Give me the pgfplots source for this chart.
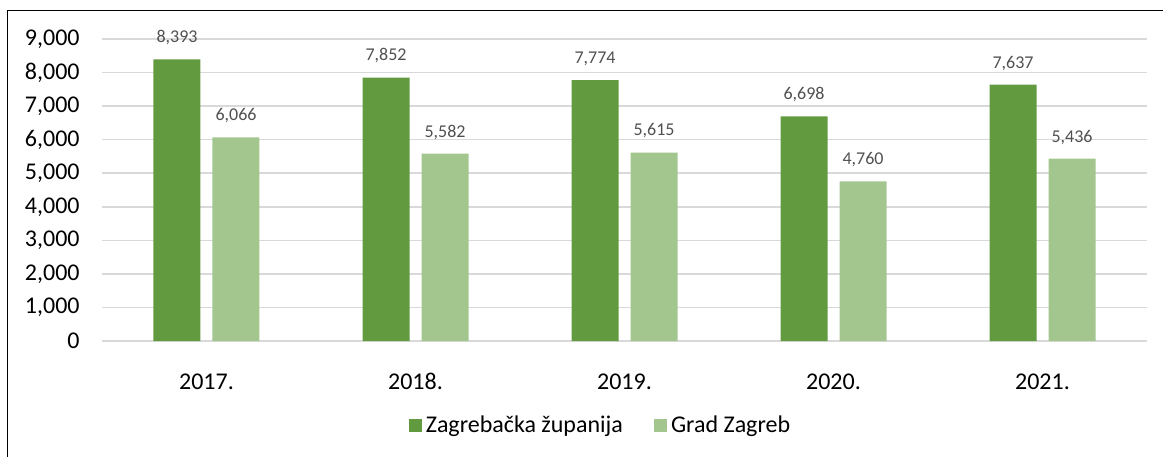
\documentclass[border=0pt]{standalone}
\usepackage{fontspec}
\setmainfont{Carlito}
\usepackage{pgfplots}
\pgfplotsset{compat=1.18}
\definecolor{darkg}{HTML}{629A3F}
\definecolor{lightg}{HTML}{A3C68F}
\definecolor{gridg}{HTML}{D9D9D9}
\definecolor{lblg}{HTML}{505050}
\begin{document}
\begin{tikzpicture}
\useasboundingbox (-51pt,-57.5pt) rectangle (530.5pt,170.5pt);
\draw[line width=0.8pt] (-47.2pt,-60pt) -- (-47.2pt,165.2pt) -- (535pt,165.2pt);
\begin{axis}[
  scale only axis,
  width=522.5pt, height=151pt,
  xmin=-0.5, xmax=4.5,
  ymin=0, ymax=9000,
  ytick distance=1000,
  xtick=data,
  xticklabels={2017.,2018.,2019.,2020.,2021.},
  axis line style={draw=none},
  tick style={draw=none},
  ymajorgrids,
  grid style={gridg, line width=0.8pt},
  /pgf/number format/.cd, assume math mode=true, 1000 sep={,},
  /pgfplots/.cd,
  ybar=6pt,
  bar width=23.5pt,
  tick label style={font=\fontsize{12}{14}\selectfont, text=black},
  yticklabel style={anchor=east, inner sep=0pt, xshift=-11pt},
  xticklabel style={anchor=base, inner sep=0pt, yshift=-20pt},
  nodes near coords,
  every node near coord/.append style={font=\fontsize{9}{10}\selectfont, text=lblg, anchor=base, inner sep=0pt, yshift=8.3pt},
  legend style={at={(0.478,-0.281)}, anchor=center, draw=none, fill=none,
    legend columns=2, font=\fontsize{12}{14}\selectfont,
    /tikz/every even column/.append style={column sep=14pt},
    nodes={inner xsep=1.8pt}},
  legend image code/.code={\fill[#1] (0pt,-3.25pt) rectangle (6.5pt,3.25pt);},
]
\addplot[fill=darkg, draw=none] coordinates {(0,8393) (1,7852) (2,7774) (3,6698) (4,7637)};
\addplot[fill=lightg, draw=none] coordinates {(0,6066) (1,5582) (2,5615) (3,4760) (4,5436)};
\legend{Zagrebačka županija, Grad Zagreb}
\end{axis}
\end{tikzpicture}
\end{document}
